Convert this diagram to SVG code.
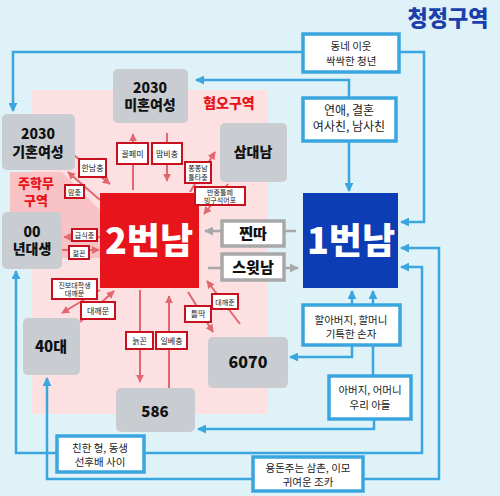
<svg xmlns="http://www.w3.org/2000/svg" width="500" height="496" viewBox="0 0 500 496">
<style>
text{font-family:"Noto Sans CJK KR","Noto Sans",sans-serif;text-anchor:middle}
.gn rect{fill:#c9cdd2;rx:5}
.gn text{font-weight:900;font-size:14px;fill:#111}
.bl rect{fill:#fff;stroke:#3aa6df;stroke-width:3.5}
.bl text{font-size:10.5px;fill:#222}
.rl rect{fill:#fff;stroke:#c8101e;stroke-width:2}
.rl text{font-size:8px;fill:#222}
.rl text.s{font-size:7px}
.gl rect{fill:#fff;stroke:#a8a8a8;stroke-width:3.5}
.gl text{font-size:15px;font-weight:900;fill:#111}
.cb{fill:none;stroke:#3aa6df;stroke-width:2.5;marker-end:url(#ab)}
.cr{fill:none;stroke:#e26870;stroke-width:2;marker-end:url(#ar)}
.cg{fill:none;stroke:#a8a8a8;stroke-width:2.5;marker-end:url(#ag)}
</style>
<defs>
<marker id="ab" viewBox="0 0 10 10" refX="9" refY="5" markerWidth="9" markerHeight="9" markerUnits="userSpaceOnUse" orient="auto-start-reverse"><path d="M0,0L10,5L0,10z" fill="#3aa6df"/></marker>
<marker id="ar" viewBox="0 0 10 10" refX="9" refY="5" markerWidth="8" markerHeight="8" markerUnits="userSpaceOnUse" orient="auto-start-reverse"><path d="M0,0L10,5L0,10z" fill="#e26870"/></marker>
<marker id="ag" viewBox="0 0 10 10" refX="9" refY="5" markerWidth="9" markerHeight="9" markerUnits="userSpaceOnUse" orient="auto-start-reverse"><path d="M0,0L10,5L0,10z" fill="#a8a8a8"/></marker>
</defs>
<rect width="500" height="496" fill="#dff2f8"/>
<rect x="32" y="90" width="236" height="324" fill="#fde0e1"/>
<polygon points="10,172 62,172 100,210 100,258 10,258" fill="#f9c2c5"/>
<text x="448" y="26" style="font-size:22px;font-weight:900;fill:#1c3fae">청정구역</text>
<text x="229" y="108" style="font-size:14px;font-weight:900;fill:#e8141c">혐오구역</text>
<text x="36" y="188" style="font-size:13px;font-weight:900;fill:#e8141c">주학무</text>
<text x="36" y="205" style="font-size:13px;font-weight:900;fill:#e8141c">구역</text>
<g id="connectors">
<path class="cb" d="M303,52H13V111"/>
<path class="cb" d="M399,52H424V222H401"/>
<path class="cb" d="M349,98V80H196"/>
<path class="cb" d="M349,141V191"/>
<path class="cb" d="M352,305V291"/>
<path class="cb" d="M373,376V291"/>
<path class="cb" d="M352,345V357H290"/>
<path class="cb" d="M374,419V429H198"/>
<path class="cb" d="M401,267H422V453H16V271" style="marker-start:url(#ab)"/>
<path class="cb" d="M401,248H439V479H47V378" style="marker-start:url(#ab)"/>
<path class="cr" d="M133,190V134"/>
<path class="cr" d="M167,133V181"/>
<path class="cr" d="M70,152L110,184"/>
<path class="cr" d="M100,200L68,172"/>
<path class="cr" d="M100,237H64"/>
<path class="cr" d="M62,250H99"/>
<path class="cr" d="M100,290L62,313"/>
<path class="cr" d="M80,322L114,291"/>
<path class="cr" d="M140,290V382"/>
<path class="cr" d="M169,388V296"/>
<path class="cr" d="M188,292L213,332"/>
<path class="cr" d="M240,324L207,281"/>
<path class="cr" d="M190,192L215,152"/>
<path class="cr" d="M228,184L204,214"/>
<path class="cg" d="M296,231H205"/>
<path class="cg" d="M208,268H298"/>
</g>
<g id="n-mihon" class="gn"><rect x="113" y="69" width="75" height="54"/><text x="150" y="93">2030</text><text x="150" y="110">미혼여성</text></g>
<g id="n-gihon" class="gn"><rect x="2" y="114" width="73" height="56"/><text x="38" y="139">2030</text><text x="38" y="157">기혼여성</text></g>
<g id="n-samdae" class="gn"><rect x="220" y="123" width="67" height="59"/><text x="253" y="157">삼대남</text></g>
<g id="n-00" class="gn"><rect x="2" y="212" width="60" height="57"/><text x="32" y="237">00</text><text x="32" y="254">년대생</text></g>
<g id="n-40" class="gn"><rect x="23" y="318" width="57" height="57"/><text x="51" y="352" style="font-size:15px">40대</text></g>
<g id="n-586" class="gn"><rect x="116" y="388" width="79" height="44"/><text x="155" y="417" style="font-size:15px">586</text></g>
<g id="n-6070" class="gn"><rect x="208" y="337" width="80" height="51"/><text x="248" y="368" style="font-size:16px">6070</text></g>
<g id="n-2"><rect x="100" y="193" width="99" height="95" fill="#e8141c"/><text x="149" y="254" style="font-size:36px;font-weight:900;fill:#fff">2번남</text></g>
<g id="n-1"><rect x="303" y="193" width="95" height="95" fill="#0c3db5"/><text x="351" y="254" style="font-size:36px;font-weight:900;fill:#fff">1번남</text></g>
<g id="g-jjin" class="gl"><rect x="222" y="221" width="62" height="25"/><text x="253" y="239">찐따</text></g>
<g id="g-sweet" class="gl"><rect x="222" y="254" width="62" height="26"/><text x="253" y="273">스윗남</text></g>
<g id="b-neighbor" class="bl"><rect x="303" y="34" width="96" height="38"/><text x="351" y="50">동네 이웃</text><text x="351" y="64.5">싹싹한 청년</text></g>
<g id="b-love" class="bl"><rect x="303" y="98" width="93" height="43"/><text x="349" y="115" style="font-size:12px">연애, 결혼</text><text x="349" y="131" style="font-size:12px">여사친, 남사친</text></g>
<g id="b-grand" class="bl"><rect x="303" y="305" width="97" height="40"/><text x="351" y="324">할아버지, 할머니</text><text x="351" y="338">기특한 손자</text></g>
<g id="b-parent" class="bl"><rect x="329" y="376" width="82" height="43"/><text x="370" y="393.5">아버지, 어머니</text><text x="370" y="409">우리 아들</text></g>
<g id="b-bro" class="bl"><rect x="57" y="436" width="87" height="36"/><text x="100" y="451.5">친한 형, 동생</text><text x="100" y="465.5">선후배 사이</text></g>
<g id="b-uncle" class="bl"><rect x="253" y="457" width="110" height="34"/><text x="308" y="472">용돈주는 삼촌, 이모</text><text x="308" y="486">귀여운 조카</text></g>
<g id="r1" class="rl"><rect x="117" y="143" width="31" height="21"/><text x="132.5" y="156.5">꼴페미</text></g>
<g id="r2" class="rl"><rect x="152" y="143" width="30" height="21"/><text x="167" y="156.5">맘비충</text></g>
<g id="r3" class="rl"><rect x="79" y="159" width="27" height="18"/><text x="92.5" y="171">한남충</text></g>
<g id="r4" class="rl"><rect x="65" y="185" width="19" height="13"/><text x="74.5" y="194.5" class="s">맘충</text></g>
<g id="r5" class="rl"><rect x="72" y="229" width="25" height="12"/><text x="84.5" y="238" class="s">급식충</text></g>
<g id="r6" class="rl"><rect x="69" y="246" width="20" height="13"/><text x="79" y="255.5" class="s">젊꼰</text></g>
<g id="r7" class="rl"><rect x="52" y="279" width="45" height="20"/><text x="74.5" y="287.5" class="s">진보대학생</text><text x="74.5" y="296" class="s">대깨문</text></g>
<g id="r8" class="rl"><rect x="81" y="302" width="34" height="17"/><text x="98" y="313.5">대깨문</text></g>
<g id="r9" class="rl"><rect x="126" y="332" width="27" height="17"/><text x="139.5" y="343.5">늙꼰</text></g>
<g id="r10" class="rl"><rect x="156" y="332" width="31" height="17"/><text x="171.5" y="343.5">일베충</text></g>
<g id="r11" class="rl"><rect x="185" y="306" width="26" height="16"/><text x="198" y="317">틀딱</text></g>
<g id="r12" class="rl"><rect x="212" y="294" width="26" height="15"/><text x="225" y="304.5" class="s">대깨준</text></g>
<g id="r13" class="rl"><rect x="185" y="162" width="26" height="21"/><text x="198" y="170.5" class="s">쫑쫑남</text><text x="198" y="179.5" class="s">틀타충</text></g>
<g id="r14" class="rl"><rect x="195" y="187" width="50" height="18"/><text x="220" y="194.5" class="s">반중틀페</text><text x="220" y="202.5" class="s">빙구석어포</text></g>
</svg>
